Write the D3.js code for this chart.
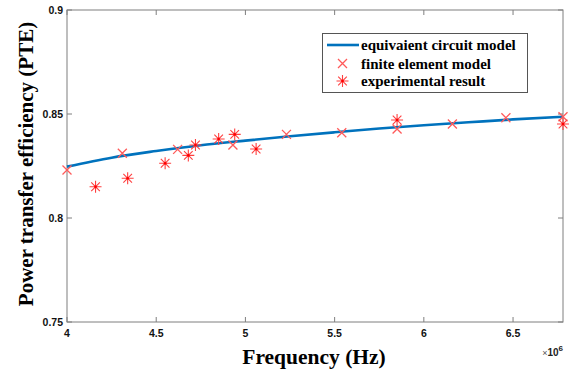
<!DOCTYPE html>
<html><head><meta charset="utf-8">
<script src="https://cdn.jsdelivr.net/npm/d3@7"></script>
<style>body{margin:0;background:#fff}svg{display:block}</style>
</head><body>
<svg id="c" width="572" height="373"></svg>
<script>
// Data (frequency in units of 1e6 Hz)
const curveFreq = [4.0, 4.25, 4.5, 4.75, 5.0, 5.25, 5.5, 5.75, 6.0, 6.25, 6.5, 6.78];
const curvePTE  = [0.8247, 0.8290, 0.8322, 0.8350, 0.8372, 0.8393, 0.8412, 0.8430, 0.8446, 0.8460, 0.8474, 0.8487];
const femFreq = [4.0, 4.31, 4.62, 4.93, 5.23, 5.54, 5.85, 6.16, 6.46, 6.78];
const femPTE  = [0.8231, 0.8311, 0.8330, 0.8351, 0.8402, 0.8410, 0.8428, 0.8452, 0.8482, 0.8487];
const expFreq = [4.16, 4.34, 4.55, 4.68, 4.72, 4.85, 4.94, 5.06, 5.85, 6.78];
const expPTE  = [0.8150, 0.8191, 0.8263, 0.8301, 0.8351, 0.8380, 0.8402, 0.8332, 0.8471, 0.8452];
const xTicks = [4, 4.5, 5, 5.5, 6, 6.5];
const yTicks = [0.75, 0.8, 0.85, 0.9];
const legendLabels = ["equivaient circuit model", "finite element model", "experimental result"];

const svg = d3.select("#c");
const L = 67, R = 563, T = 10, B = 322;
const x = d3.scaleLinear().domain([4, 6.78]).range([L, R]);
const y = d3.scaleLinear().domain([0.75, 0.9]).range([B, T]);
const axisCol = "#7f7f7f";
const tickFont = "'Liberation Sans', Arial, sans-serif";
const serif = "'Liberation Serif', 'Times New Roman', serif";

// ticks (inward) on all four sides
const g = svg.append("g");
xTicks.forEach(t => {
  g.append("line").attr("x1", x(t)).attr("x2", x(t)).attr("y1", B).attr("y2", B - 5).attr("stroke", axisCol);
  g.append("line").attr("x1", x(t)).attr("x2", x(t)).attr("y1", T).attr("y2", T + 5).attr("stroke", axisCol);
  g.append("text").attr("x", x(t)).attr("y", B + 15).attr("text-anchor", "middle")
    .attr("font-family", tickFont).attr("font-weight", "bold").attr("font-size", 10.5).attr("fill", "#111").text(t);
});
yTicks.forEach(t => {
  g.append("line").attr("x1", L).attr("x2", L + 5).attr("y1", y(t)).attr("y2", y(t)).attr("stroke", axisCol);
  g.append("line").attr("x1", R).attr("x2", R - 5).attr("y1", y(t)).attr("y2", y(t)).attr("stroke", axisCol);
  g.append("text").attr("x", L - 4).attr("y", y(t) + 4).attr("text-anchor", "end")
    .attr("font-family", tickFont).attr("font-weight", "bold").attr("font-size", 10.5).attr("fill", "#111").text(t);
});
svg.append("rect").attr("x", L).attr("y", T).attr("width", R - L).attr("height", B - T)
  .attr("fill", "none").attr("stroke", axisCol).attr("stroke-width", 1);

// x10^6
const ex = svg.append("text").attr("x", 563).attr("y", 356).attr("text-anchor", "end")
  .attr("font-family", tickFont).attr("fill", "#222");
ex.append("tspan").attr("font-size", 9).attr("fill", "#555").text("×");
ex.append("tspan").attr("font-size", 10).attr("font-weight", "bold").text("10");
ex.append("tspan").attr("font-size", 8).attr("font-weight", "bold").attr("dy", -5).text("6");

// axis titles
svg.append("text").attr("x", 314).attr("y", 364).attr("text-anchor", "middle")
  .attr("font-family", serif).attr("font-weight", "bold").attr("font-size", 21.5).attr("fill", "#000").text("Frequency (Hz)");
svg.append("text").attr("transform", "translate(33,164) rotate(-90)").attr("text-anchor", "middle")
  .attr("font-family", serif).attr("font-weight", "bold").attr("font-size", 21).attr("fill", "#000").text("Power transfer efficiency (PTE)");

// curve
const line = d3.line().x((d, i) => x(curveFreq[i])).y(d => y(d)).curve(d3.curveMonotoneX);
svg.append("path").datum(curvePTE).attr("d", line).attr("fill", "none")
  .attr("stroke", "#0072BD").attr("stroke-width", 2.6);

const red = "#ff4040";
function cross(sel, cx, cy, r) {
  sel.append("path").attr("d", `M${cx-r},${cy-r}L${cx+r},${cy+r}M${cx-r},${cy+r}L${cx+r},${cy-r}`)
    .style("stroke", "#ff5a5a").style("stroke-width", "1.3px").style("fill", "none");
}
function star(sel, cx, cy, r) {
  const d = r * 0.72;
  sel.append("path").attr("d", `M${cx-r},${cy}L${cx+r},${cy}M${cx},${cy-r}L${cx},${cy+r}M${cx-d},${cy-d}L${cx+d},${cy+d}M${cx-d},${cy+d}L${cx+d},${cy-d}`)
    .style("stroke", red).style("stroke-width", "1.1px").style("fill", "none");
  sel.append("circle").attr("cx", cx).attr("cy", cy).attr("r", 1.3).style("fill", "#f00");
}
const mk = svg.append("g");
femFreq.forEach((f, i) => cross(mk, x(f), y(femPTE[i]), 4.5));
expFreq.forEach((f, i) => star(mk, x(f), y(expPTE[i]), 6));

// legend
const lg = svg.append("g");
lg.append("rect").attr("x", 322.5).attr("y", 33.5).attr("width", 205).attr("height", 59)
  .attr("fill", "#fff").attr("stroke", "#555").attr("stroke-width", 1);
const rows = [45, 63.5, 81];
lg.append("line").attr("x1", 327).attr("x2", 359).attr("y1", rows[0]).attr("y2", rows[0])
  .attr("stroke", "#0072BD").attr("stroke-width", 2.6);
cross(lg, 342.5, rows[1], 4.5);
star(lg, 342.5, rows[2], 6);
legendLabels.forEach((t, i) => {
  lg.append("text").attr("x", 361).attr("y", rows[i] + 5)
    .attr("font-family", serif).attr("font-weight", "bold").attr("font-size", 15).attr("fill", "#000").text(t);
});
</script>
</body></html>
